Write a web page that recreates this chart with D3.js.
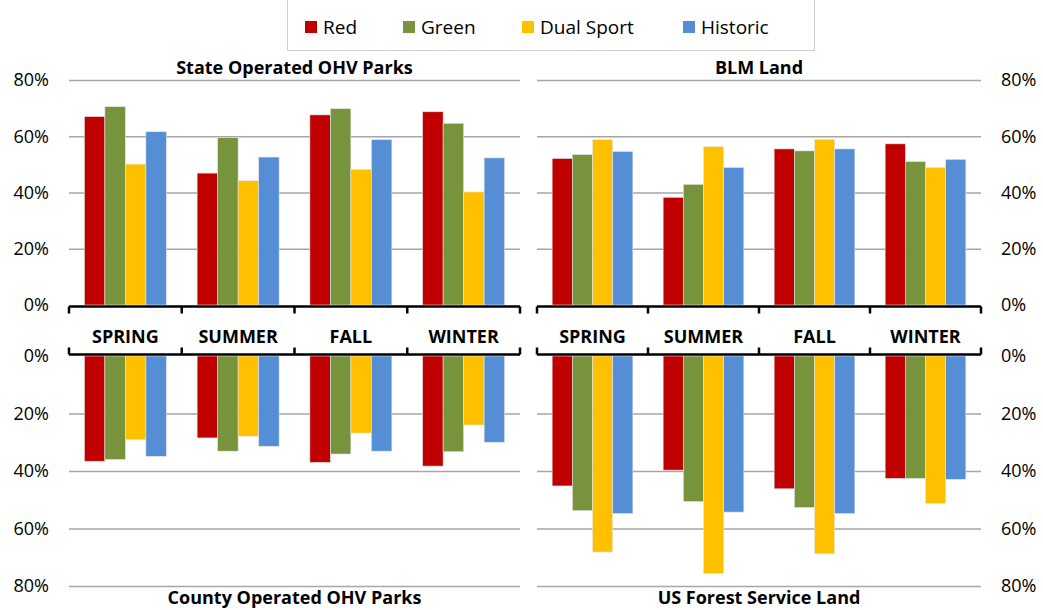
<!DOCTYPE html>
<html>
<head>
<meta charset="utf-8">
<script src="https://cdn.jsdelivr.net/npm/d3@7"></script>
<style>
  body { margin: 0; background: #fff; }
  svg text { font-family: "Open Sans", sans-serif; fill: #000; }
</style>
</head>
<body>
<div id="graph"></div>
<script>
const seasons = ["SPRING", "SUMMER", "FALL", "WINTER"];
const seriesNames = ["Red", "Green", "Dual Sport", "Historic"];
const seriesColors = ["#C00000", "#77933C", "#FFC000", "#558ED5"];
const yTicks = [0, 20, 40, 60, 80];

// values per season, in series order (percent)
const stateParks = [[67.0, 70.5, 50.1, 61.6], [46.9, 59.5, 44.2, 52.6], [67.6, 69.8, 48.2, 58.8], [68.7, 64.6, 40.2, 52.3]];
const blmLand = [[52.1, 53.5, 58.8, 54.6], [38.3, 42.9, 56.3, 48.9], [55.5, 54.8, 58.9, 55.5], [57.3, 51.0, 48.9, 51.8]];
const countyParks = [[36.6, 36.0, 29.1, 34.9], [28.5, 33.1, 27.9, 31.4], [37.0, 34.1, 26.8, 33.1], [38.3, 33.3, 24.0, 30.0]];
const forestLand = [[45.2, 53.8, 68.2, 54.8], [39.7, 50.6, 75.7, 54.3], [46.2, 52.7, 68.8, 54.8], [42.6, 42.6, 51.3, 42.9]];

const svg = d3.create("svg").attr("width", 1043).attr("height", 610);

const panels = [
  { title: "State Operated OHV Parks", data: stateParks, x: [69, 520], y: [305, 80], titleY: 67, side: "left" },
  { title: "BLM Land", data: blmLand, x: [537, 981], y: [305, 80], titleY: 67, side: "right" },
  { title: "County Operated OHV Parks", data: countyParks, x: [69, 520], y: [356, 586], titleY: 597, side: "left" },
  { title: "US Forest Service Land", data: forestLand, x: [537, 981], y: [356, 586], titleY: 597, side: "right" }
];

panels.forEach(p => {
  const x0 = d3.scaleBand().domain(seasons).range(p.x).paddingInner(0).paddingOuter(0);
  const x1 = d3.scaleBand().domain(seriesNames)
    .range([0, x0.bandwidth()]).paddingInner(0).paddingOuter(0.75);
  const y = d3.scaleLinear().domain([0, 80]).range(p.y);
  const width = p.x[1] - p.x[0];

  // gridlines
  const grid = svg.append("g").attr("transform", `translate(${p.x[0]},0)`)
    .call(d3.axisLeft(y).tickValues(yTicks.slice(1)).tickSize(-width).tickFormat(""));
  grid.select(".domain").remove();
  grid.selectAll("line").attr("stroke", "#a6a6a6").attr("stroke-width", 1.5);

  // bars
  const g = svg.append("g");
  seasons.forEach((s, i) => {
    g.selectAll(null)
      .data(p.data[i])
      .join("rect")
      .attr("x", (d, j) => x0(s) + x1(seriesNames[j]))
      .attr("width", x1.bandwidth())
      .attr("y", d => Math.min(y(d), y(0)))
      .attr("height", d => Math.abs(y(d) - y(0)))
      .attr("fill", (d, j) => seriesColors[j])
      .attr("stroke", "#e6e6e6").attr("stroke-width", 0.6);
  });

  // value axis labels
  const ax = p.side === "left"
    ? d3.axisLeft(y).tickValues(yTicks).tickSize(0).tickPadding(20).tickFormat(d => d + "%")
    : d3.axisRight(y).tickValues(yTicks).tickSize(0).tickPadding(20).tickFormat(d => d + "%");
  const axg = svg.append("g")
    .attr("transform", `translate(${p.side === "left" ? p.x[0] : p.x[1]},0)`)
    .call(ax);
  axg.select(".domain").remove();
  axg.selectAll("text").attr("font-size", 18).attr("font-family", "Open Sans").attr("fill", "#000");

  // category bracket
  const top = p.y[1] < p.y[0];
  const base = top ? p.y[0] + 1.5 : p.y[0] - 1.5;
  const tickEnd = top ? base + 7 : base - 7;
  const bounds = seasons.map(s => x0(s)).concat([p.x[1]]);
  let path = `M${p.x[0]},${base}H${p.x[1]}`;
  bounds.forEach(b => { path += `M${b},${base}V${tickEnd}`; });
  svg.append("path").attr("d", path).attr("stroke", "#000").attr("stroke-width", 2.5).attr("fill", "none");

  // title
  svg.append("text")
    .attr("x", (p.x[0] + p.x[1]) / 2).attr("y", p.titleY)
    .attr("text-anchor", "middle").attr("dominant-baseline", "central")
    .attr("font-size", 18).attr("font-weight", "bold")
    .text(p.title);
});

// season labels
const xs = d3.scaleBand().domain(seasons).range([69, 520]);
const xsR = d3.scaleBand().domain(seasons).range([537, 981]);
[xs, xsR].forEach(sc => {
  svg.append("g").selectAll("text").data(seasons).join("text")
    .attr("x", d => sc(d) + sc.bandwidth() / 2)
    .attr("y", 336)
    .attr("text-anchor", "middle").attr("dominant-baseline", "central")
    .attr("font-size", 18).attr("font-weight", "bold")
    .text(d => d);
});

// legend
const legend = svg.append("g");
legend.append("rect").attr("x", 287.5).attr("y", -1).attr("width", 527).attr("height", 51.5)
  .attr("fill", "#fff").attr("stroke", "#d0d0d0");
const legendX = [305, 403, 522, 683];
const item = legend.selectAll("g").data(seriesNames).join("g")
  .attr("transform", (d, i) => `translate(${legendX[i]},0)`);
item.append("rect").attr("y", 21).attr("width", 12).attr("height", 12).attr("fill", (d, i) => seriesColors[i]);
item.append("text").attr("x", 18).attr("y", 27).attr("dominant-baseline", "central")
  .attr("font-size", 19).text(d => d);

document.getElementById("graph").appendChild(svg.node());
</script>
</body>
</html>
